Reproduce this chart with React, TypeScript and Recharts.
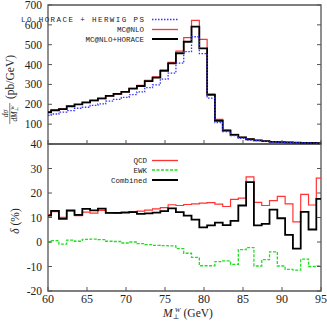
import { LineChart, Line, XAxis, YAxis, ReferenceArea } from "recharts";

// lower bin edges (GeV); the last bin closes at X_MAX
const binEdges = [
  60, 60.4, 61.4, 62.4, 63.4, 64.4, 65.4, 66.4, 67.4, 68.4, 69.4, 70.4, 71.4, 72.4, 73.4, 74.4, 75.4, 76.4,
  77.4, 78.4, 79.4, 80.4, 81.4, 82.4, 83.4, 84.4, 85.4, 86.4, 87.4, 88.4, 89.4, 90.4, 91.4, 92.4, 93.4, 94.4,
];
const X_MAX = 95;

// top panel, d sigma / d M (pb/GeV)
const loHoraceHerwig = [
  144, 151, 161, 168, 180, 185, 195, 202, 216, 225, 235, 249, 262, 284, 298, 327, 357, 407, 465, 540, 455, 231,
  108, 63, 42, 29, 20, 17, 13, 10, 8.2, 7.6, 7, 5.4, 4.8, 3.6,
];
const mcatnlo = [
  160, 170, 177, 189, 199, 208, 218, 228, 242, 251, 264, 280, 295, 321, 338, 373, 411, 468, 536, 623, 527, 252,
  124, 71, 48, 34, 25, 19, 15, 12, 9.5, 8.5, 7.5, 6.5, 5.5, 4.5,
];
const mcatnloHorace = [
  160, 170, 176, 190, 200, 210, 220, 230, 242, 252, 263, 279, 292, 317, 334, 368, 406, 457, 515, 591, 482, 247,
  117, 67, 46, 33, 24, 18, 14, 11, 9, 8, 7, 6, 5, 4,
];

// bottom panel, delta (%)
const deltaQcd = [
  11.2, 12.4, 10.1, 12.6, 10.8, 12.2, 11.8, 12.9, 11.9, 11.7, 12.2, 12.4, 12.6, 13.0, 13.5, 14.0, 15.2, 14.9,
  15.3, 15.6, 15.9, 16.1, 15.5, 14.5, 17.4, 17.9, 26.6, 16.2, 14.9, 16.9, 18.6, 15.6, 8.2, 19.4, 15.1, 26.1,
];
const deltaEwk = [
  0, 0.6, -0.9, 0.8, 0.3, 1.1, 1.2, 1.0, 0.3, 0.2, -0.4, 0, -0.7, -1.1, -1.4, -1.5, -1.6, -2.7, -4.6, -6.3,
  -9.7, -9.7, -8.0, -7.7, -9.1, -3.1, -2.3, -9.8, -7.2, -4.0, -9.8, -11.2, -11.5, -7.0, -10.0, -9.8,
];
const deltaCombined = [
  10.8, 12.7, 9.5, 12.9, 11.1, 13.5, 12.9, 13.6, 11.9, 11.9, 12.0, 12.2, 11.5, 11.7, 12.0, 12.6, 13.7, 12.2,
  10.8, 9.1, 6.0, 6.8, 7.9, 6.9, 8.6, 14.9, 24.4, 6.8, 7.4, 13.2, 9.7, 2.9, -2.7, 12.3, 5.1, 17.6,
];

const xTicks = [60, 65, 70, 75, 80, 85, 90, 95];
const topTicks = [100, 200, 300, 400, 500, 600, 700];
const bottomTicks = [-20, -10, 0, 10, 20, 30, 40];

// step rows: value holds from each edge to the next, last one repeated at X_MAX
function stepRows(series: Record<string, number[]>) {
  const keys = Object.keys(series);
  const rows = binEdges.map((x, i) => {
    const r: Record<string, number> = { x };
    keys.forEach((k) => (r[k] = series[k][i]));
    return r;
  });
  const last = { ...rows[rows.length - 1], x: X_MAX };
  return [...rows, last];
}

const topData = stepRows({ lo: loHoraceHerwig, nlo: mcatnlo, nloh: mcatnloHorace });
const bottomData = stepRows({ qcd: deltaQcd, ewk: deltaEwk, comb: deltaCombined });

const W = 327;
const H = 321;
const PLOT_W = 273;
const FRAME = "#555";
const TICK = 4;
const SERIF = "'Liberation Serif', 'DejaVu Serif', serif";
const MONO = "'Liberation Mono', 'DejaVu Sans Mono', monospace";

const RED = "#ff3333";
const BLUE = "#3333ff";
const GREEN = "#22dd22";

function YTick(props: any) {
  const { x, y, payload } = props;
  return (
    <g>
      <line x1={x} x2={x + TICK} y1={y} y2={y} stroke={FRAME} />
      <line x1={x + PLOT_W} x2={x + PLOT_W - TICK} y1={y} y2={y} stroke={FRAME} />
      <text x={x - 6} y={y} dy="0.35em" textAnchor="end" fontFamily={SERIF} fontSize={11.5} fill="#222">
        {payload.value}
      </text>
    </g>
  );
}

function XTickTop(props: any) {
  const { x, y } = props;
  return <line x1={x} x2={x} y1={y} y2={y - TICK} stroke={FRAME} />;
}

function XTickBottom(props: any) {
  const { x, y, payload } = props;
  return (
    <g>
      <line x1={x} x2={x} y1={y} y2={y - TICK} stroke={FRAME} />
      <text x={x} y={y + 12} textAnchor="middle" fontFamily={SERIF} fontSize={12} fill="#222">
        {payload.value}
      </text>
    </g>
  );
}

const topLegend = [
  { label: "LO HORACE + HERWIG PS", color: BLUE, dash: "1.5 1.5", width: 1.3, y: 19.5, length: 123 },
  { label: "MC@NLO", color: RED, dash: undefined, width: 1.3, y: 29.5, length: undefined },
  { label: "MC@NLO+HORACE", color: "#000", dash: undefined, width: 2, y: 39, length: undefined },
];
const bottomLegend = [
  { label: "QCD", color: RED, dash: undefined, width: 1.3, y: 160.5 },
  { label: "EWK", color: GREEN, dash: "3 1.5", width: 1.3, y: 170 },
  { label: "Combined", color: "#000", dash: undefined, width: 2, y: 180 },
];

export default function App() {
  return (
    <div style={{ position: "absolute", left: 0, top: 0, width: W, height: H, background: "#fff" }}>
      {/* BOTTOM PANEL */}
      <div style={{ position: "absolute", left: 0, top: 0 }}>
        <LineChart width={W} height={H} data={bottomData} margin={{ top: 144, right: 6, bottom: 10, left: 8 }}>
          <XAxis
            dataKey="x"
            type="number"
            domain={[60, X_MAX]}
            ticks={xTicks}
            interval={0}
            height={20}
            tickSize={0}
            tickMargin={0}
            axisLine={false}
            tick={<XTickBottom />}
            allowDataOverflow
          />
          <YAxis
            type="number"
            domain={[-20, 40]}
            ticks={bottomTicks}
            interval={0}
            width={40}
            tickSize={0}
            tickMargin={0}
            axisLine={false}
            tick={<YTick />}
            allowDataOverflow
          />
          <ReferenceArea x1={60} x2={X_MAX} y1={-20} y2={40} fill="none" stroke={FRAME} strokeWidth={1.3} />
          <Line dataKey="qcd" type="stepAfter" stroke={RED} strokeWidth={1.2} dot={false} isAnimationActive={false} />
          <Line
            dataKey="ewk"
            type="stepAfter"
            stroke={GREEN}
            strokeWidth={1.3}
            strokeDasharray="3 1.5"
            dot={false}
            isAnimationActive={false}
          />
          <Line dataKey="comb" type="stepAfter" stroke="#000" strokeWidth={1.8} dot={false} isAnimationActive={false} />
        </LineChart>
      </div>

      {/* TOP PANEL */}
      <div style={{ position: "absolute", left: 0, top: 0 }}>
        <LineChart width={W} height={150} data={topData} margin={{ top: 5, right: 6, bottom: 5, left: 8 }}>
          <XAxis
            dataKey="x"
            type="number"
            domain={[60, X_MAX]}
            ticks={xTicks}
            interval={0}
            height={1}
            tickSize={0}
            tickMargin={0}
            axisLine={false}
            tick={<XTickTop />}
            allowDataOverflow
          />
          <YAxis
            type="number"
            domain={[0, 700]}
            ticks={topTicks}
            interval={0}
            width={40}
            tickSize={0}
            tickMargin={0}
            axisLine={false}
            tick={<YTick />}
            allowDataOverflow
          />
          <ReferenceArea x1={60} x2={X_MAX} y1={0} y2={700} fill="none" stroke={FRAME} strokeWidth={1.3} />
          <Line dataKey="nlo" type="stepAfter" stroke={RED} strokeWidth={1.2} dot={false} isAnimationActive={false} />
          <Line dataKey="nloh" type="stepAfter" stroke="#000" strokeWidth={1.8} dot={false} isAnimationActive={false} />
          <Line
            dataKey="lo"
            type="stepAfter"
            stroke={BLUE}
            strokeWidth={1.3}
            strokeDasharray="1.5 1.5"
            dot={false}
            isAnimationActive={false}
          />
        </LineChart>
      </div>

      {/* TITLES + LEGENDS */}
      <svg width={W} height={H} style={{ position: "absolute", left: 0, top: 0, pointerEvents: "none" }}>
        <g transform="rotate(-90)" fontFamily={SERIF} fill="#222">
          <text x={-113.5} y={8} textAnchor="middle" fontSize={7.5} fontStyle="italic">
            dσ
          </text>
          <line x1={-124} x2={-103} y1={9.8} y2={9.8} stroke="#222" strokeWidth={0.6} />
          <text x={-113.5} y={16.5} textAnchor="middle" fontSize={7.5} fontStyle="italic">
            dM
            <tspan fontSize={5} dy={1.5}>⊥</tspan>
            <tspan fontSize={5} dy={-4.5} dx={-3}>W</tspan>
          </text>
          <text x={-77} y={13.5} textAnchor="middle" fontSize={11.5}>
            (pb/GeV)
          </text>
          <text x={-221} y={19} textAnchor="middle" fontSize={11.5}>
            <tspan fontStyle="italic">δ</tspan> (%)
          </text>
        </g>
        <text x={188} y={316.5} textAnchor="middle" fontFamily={SERIF} fontSize={11.5} fill="#222">
          <tspan fontStyle="italic">M</tspan>
          <tspan fontSize={7} dy={2}>⊥</tspan>
          <tspan fontSize={7} fontStyle="italic" dy={-6.5} dx={-4.5}>W</tspan>
          <tspan dy={4.5}> (GeV)</tspan>
        </text>

        {topLegend.map((l) => (
          <g key={l.label}>
            <text
              x={144}
              y={l.y}
              dy="0.35em"
              textAnchor="end"
              fontFamily={MONO}
              fontSize={7.5}
              textLength={l.length}
              lengthAdjust={l.length ? "spacing" : undefined}
              fill="#222"
            >
              {l.label}
            </text>
            <line x1={152} x2={178} y1={l.y} y2={l.y} stroke={l.color} strokeWidth={l.width} strokeDasharray={l.dash} />
          </g>
        ))}
        {bottomLegend.map((l) => (
          <g key={l.label}>
            <text x={147} y={l.y} dy="0.35em" textAnchor="end" fontFamily={MONO} fontSize={7.5} fill="#222">
              {l.label}
            </text>
            <line x1={152} x2={178} y1={l.y} y2={l.y} stroke={l.color} strokeWidth={l.width} strokeDasharray={l.dash} />
          </g>
        ))}
      </svg>
    </div>
  );
}
